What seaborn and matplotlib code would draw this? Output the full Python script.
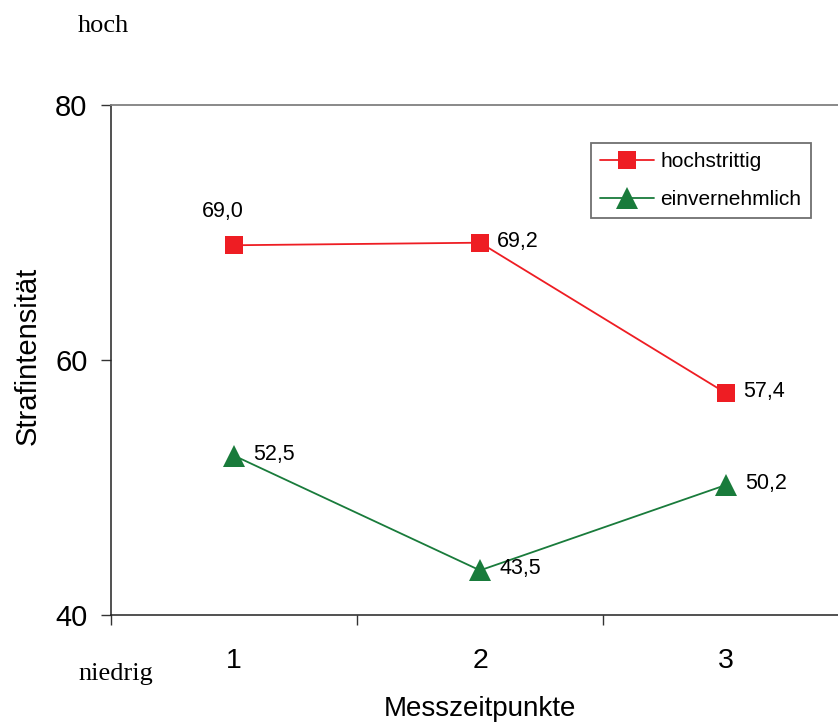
import matplotlib
matplotlib.use("Agg")
import matplotlib.pyplot as plt
import seaborn as sns
import pandas as pd
from matplotlib.ticker import FixedLocator

# ---- data ----
zeitpunkte = [1, 2, 3]
tick_labels = ["1", "2", "3"]
gruppen = ["hochstrittig", "einvernehmlich"]
hochstrittig = [69.0, 69.2, 57.4]
einvernehmlich = [52.5, 43.5, 50.2]

df = pd.DataFrame({
    "Messzeitpunkte": zeitpunkte * 2,
    "Strafintensität": hochstrittig + einvernehmlich,
    "Gruppe": [gruppen[0]] * 3 + [gruppen[1]] * 3,
})

sns.set_theme(style="white")
plt.rcParams["font.family"] = ["Liberation Sans", "DejaVu Sans"]
plt.rcParams["text.color"] = "black"
plt.rcParams["axes.labelcolor"] = "black"

RED = "#EE1D23"
GREEN = "#197B3B"

fig = plt.figure(figsize=(8.38, 7.22), dpi=100)
ax = fig.add_axes([111 / 838, 107 / 722, 738 / 838, 510 / 722])

sns.lineplot(
    data=df, x="Messzeitpunkte", y="Strafintensität", hue="Gruppe",
    hue_order=gruppen, style="Gruppe", style_order=gruppen,
    markers={"hochstrittig": "s", "einvernehmlich": "^"}, dashes=False,
    palette={"hochstrittig": RED, "einvernehmlich": GREEN},
    linewidth=1.3, markeredgewidth=0, legend=False, ax=ax,
)
lines = ax.lines[:2]
lines[0].set_markersize(13)
lines[1].set_markersize(16)

ax.set_xlim(0.5, 3.5)
ax.set_ylim(40, 80)
ax.set_yticks([40, 60, 80])
ax.set_xticks(zeitpunkte)
ax.set_xticklabels(tick_labels)
ax.xaxis.set_minor_locator(FixedLocator([0.5, 1.5, 2.5, 3.5]))
ax.tick_params(axis="x", which="major", length=0, pad=24, labelsize=20.5, labelcolor="black")
ax.tick_params(axis="x", which="minor", bottom=True, length=7, width=1, color="#333333", direction="out")
ax.tick_params(axis="y", which="major", left=True, length=7, width=1, color="#333333",
               direction="out", pad=10, labelsize=21, labelcolor="black")

for s in ["left", "bottom"]:
    ax.spines[s].set_color("#222222")
    ax.spines[s].set_linewidth(1.1)
ax.spines["top"].set_color("#808080")
ax.spines["top"].set_linewidth(1.3)
ax.spines["right"].set_visible(False)

ax.set_xlabel("Messzeitpunkte", fontsize=20, color="black")
ax.set_ylabel("Strafintensität", fontsize=21, color="black")
ax.xaxis.set_label_coords(0.5, -0.158)
ax.yaxis.set_label_coords(-0.094, 0.508)

def fmt(v):
    return f"{v:.1f}".replace(".", ",")

# data labels
ax.annotate(fmt(hochstrittig[0]), (zeitpunkte[0], hochstrittig[0]), xytext=(-8, 24),
            textcoords="offset points", ha="center", va="center", fontsize=15.5, color="black")
for x, v in zip(zeitpunkte[1:], hochstrittig[1:]):
    ax.annotate(fmt(v), (x, v), xytext=(12.5, 1), textcoords="offset points",
                ha="left", va="center", fontsize=15.5, color="black")
for x, v in zip(zeitpunkte, einvernehmlich):
    ax.annotate(fmt(v), (x, v), xytext=(14, 1), textcoords="offset points",
                ha="left", va="center", fontsize=15.5, color="black")

leg = ax.legend(lines, gruppen, loc="upper right", bbox_to_anchor=(0.9485, 0.9255),
                fontsize=15, frameon=True, fancybox=False, framealpha=1,
                edgecolor="#707070", handlelength=2.6, handletextpad=0.3,
                labelspacing=0.9, borderpad=0.45, borderaxespad=0)
leg.get_frame().set_linewidth(1.3)
for t in leg.get_texts():
    t.set_color("black")

fig.text(78 / 838, 1 - 32 / 722, "hoch", family=["Liberation Serif", "DejaVu Serif"],
         fontsize=19, va="baseline", ha="left", color="black")
fig.text(78 / 838, 1 - 680 / 722, "niedrig", family=["Liberation Serif", "DejaVu Serif"],
         fontsize=19, va="baseline", ha="left", color="black")

fig.savefig("out.png", dpi=100)
